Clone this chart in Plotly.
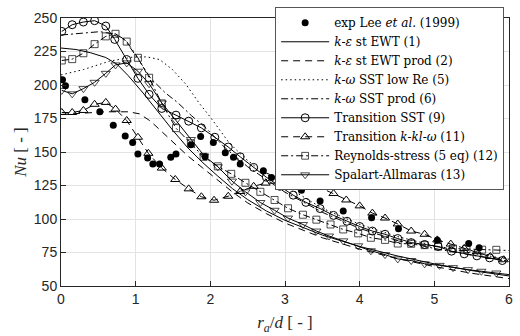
import plotly.graph_objects as go

# ---------------- data ----------------
exp_x = [0.02, 0.06, 0.32, 0.52, 0.70, 0.86, 0.96, 1.03, 1.16, 1.23, 1.32, 1.47, 1.54, 1.74, 1.87, 1.93,
         2.04, 2.20, 2.31, 2.40, 2.71, 2.82, 3.22, 3.47, 3.78, 4.16, 4.52, 5.04, 5.46, 5.60]
exp_y = [204, 199.5, 189, 180, 170, 162, 157, 148.5, 145.5, 141, 141, 146, 148.5, 155.5, 161.5, 146.5,
         157, 149.5, 146, 141, 136, 131, 121.5, 113.5, 106, 101, 92.7, 84.2, 81.8, 78.5]

ke_x = [0, 0.2, 0.4, 0.6, 0.75, 0.9, 1.1, 1.3, 1.5, 1.7, 1.9, 2.1, 2.3, 2.5, 2.75, 3.0, 3.5, 4.0, 4.5, 5.0, 5.5, 6.0]
ke_y = [227.6, 226.5, 224, 220.5, 215.5, 207, 194, 180, 166, 153, 142, 132, 122.5, 114.5, 106, 99, 88, 79.5, 72.5, 66.5, 61.5, 57.5]

kep_x = [0, 0.3, 0.6, 0.9, 1.05, 1.2, 1.35, 1.5, 1.7, 1.9, 2.1, 2.3, 2.5, 2.75, 3.0, 3.5, 4.0, 4.5, 5.0, 5.5, 6.0]
kep_y = [178, 179, 180, 180, 178.5, 173, 165, 157, 147, 138, 129, 120, 112, 104, 97, 86, 77.5, 70.5, 64.5, 59.5, 55.5]

sstlow_x = [0, 0.3, 0.65, 0.95, 1.15, 1.32, 1.49, 1.67, 1.85, 2.0, 2.25, 2.47, 2.7, 3.0, 3.5, 4.0, 4.5, 5.0, 5.5, 6.0]
sstlow_y = [207.5, 211.5, 217.8, 220.7, 221, 219, 211.7, 200.7, 186.5, 176, 157, 145, 135, 125, 108, 96, 87, 80, 74.5, 70]

sstp_x = [0, 0.3, 0.52, 0.74, 0.85, 0.95, 1.05, 1.2, 1.4, 1.56, 1.75, 1.94, 2.2, 2.5, 3.0, 3.5, 4.0, 4.5, 5.0, 5.5, 6.0]
sstp_y = [237.3, 238.6, 239.8, 237.8, 234, 226, 218, 205, 194, 187, 177, 168, 153, 139, 120, 105, 93, 84, 78, 73, 68.5]

tsst_x = [0.01, 0.15, 0.30, 0.45, 0.60, 0.72, 0.88, 1.03, 1.18, 1.35, 1.54, 1.71, 1.88, 2.06, 2.24, 2.40, 2.58, 2.75,
          2.93, 3.11, 3.28, 3.47, 3.65, 3.83, 4.00, 4.17, 4.34, 4.51, 4.69, 4.87, 5.05, 5.23, 5.40, 5.57, 5.74, 5.91]
tsst_y = [240, 245, 247, 248, 244, 234, 219, 205, 193, 182.5, 177.5, 173, 168, 161, 153.7, 146.4, 138.5, 131.2,
          124.4, 117.8, 112.4, 107.8, 102.7, 98.3, 94.4, 91, 88.6, 85.4, 82.4, 81, 79.5, 76, 74, 72.5, 71, 69]

tkkl_x = [0.01, 0.15, 0.30, 0.45, 0.60, 0.73, 0.88, 1.03, 1.17, 1.35, 1.53, 1.71, 1.88, 2.05, 2.24, 2.40, 2.58, 2.74,
          2.93, 3.11, 3.28, 3.47, 3.65, 3.82, 4.00, 4.17, 4.34, 4.51, 4.69, 4.87, 5.04, 5.22, 5.40, 5.57, 5.75, 5.93]
tkkl_y = [179.5, 179.5, 181, 185.6, 187, 182, 173.5, 161, 149, 138, 129.5, 122.5, 116.6, 114, 117, 120.5, 124.4, 126.8,
          126.8, 126.8, 126.3, 123.5, 119, 114.2, 109.8, 104.4, 100.7, 96.3, 91, 88.6, 84.4, 81.3, 78.1, 75.6, 72, 69.6]

rsm_x = [0.01, 0.15, 0.30, 0.45, 0.60, 0.73, 0.88, 1.03, 1.18, 1.35, 1.54, 1.74, 1.91, 2.10, 2.28, 2.47, 2.67,
         2.86, 3.04, 3.24, 3.42, 3.61, 3.78, 3.98, 4.15, 4.34, 4.51, 4.69, 4.87, 5.05, 5.25, 5.43, 5.64, 5.83, 6.0]
rsm_y = [218.3, 219.3, 223.7, 230.5, 236.3, 238.2, 232.4, 220.3, 205.4, 186.3, 167.8, 156.5, 146.4, 139.3, 133.7,
         127, 120.3, 114.2, 108, 103.2, 99.5, 95.9, 92.2, 89.3, 86, 84.4, 81.7, 81.5, 80.5, 79.5, 78, 77.6, 77.1, 77, 76.5]

sa_x = [0.01, 0.15, 0.30, 0.45, 0.60, 0.73, 0.88, 1.03, 1.18, 1.35, 1.54, 1.74, 1.92, 2.10, 2.29, 2.47, 2.67,
        2.86, 3.04, 3.24, 3.42, 3.59, 3.78, 3.98, 4.15, 4.34, 4.51, 4.69, 4.87, 5.07, 5.25, 5.45, 5.63, 5.83, 6.0]
sa_y = [196, 193.4, 197.3, 202, 208.7, 215, 216.5, 210.3, 201, 186.6, 173.5, 159.3, 147, 139, 128.3, 120.3, 112.3,
        106.5, 100.7, 95.9, 91, 87.3, 83.7, 80, 76.3, 73.4, 70.2, 69, 66.6, 65.4, 63.7, 62.2, 61, 59.7, 58.5]

x_ticks = [0, 1, 2, 3, 4, 5, 6]
y_ticks = [50, 75, 100, 125, 150, 175, 200, 225, 250]

names = [
    "exp Lee <i>et al.</i> (1999)",
    "<i>k</i>-<i>ε</i> st EWT (1)",
    "<i>k</i>-<i>ε</i> st EWT prod (2)",
    "<i>k</i>-<i>ω</i> SST low Re (5)",
    "<i>k</i>-<i>ω</i> SST prod (6)",
    "Transition SST (9)",
    "Transition <i>k</i>-<i>kl</i>-<i>ω</i> (11)",
    "Reynolds-stress (5 eq) (12)",
    "Spalart-Allmaras (13)",
]

# ---------------- figure ----------------
K = "black"
LW = 1
DASH = "7px,5px"
DASHDOT = "7px,3px,2px,3px"
DOT = "1.5px,3px"


def sizes(n, s, last_hidden=False):
    out = [s] * n
    if last_hidden:
        out[-1] = 0
    return out


fig = go.Figure()
fig.add_trace(go.Scatter(x=exp_x, y=exp_y, mode="markers", name=names[0],
                         marker=dict(symbol="circle", size=7, color=K)))
fig.add_trace(go.Scatter(x=ke_x, y=ke_y, mode="lines", name=names[1],
                         line=dict(color=K, width=LW)))
fig.add_trace(go.Scatter(x=kep_x, y=kep_y, mode="lines", name=names[2],
                         line=dict(color=K, width=LW, dash=DASH)))
fig.add_trace(go.Scatter(x=sstlow_x, y=sstlow_y, mode="lines", name=names[3],
                         line=dict(color=K, width=LW, dash=DOT)))
fig.add_trace(go.Scatter(x=sstp_x, y=sstp_y, mode="lines", name=names[4],
                         line=dict(color=K, width=LW, dash=DASHDOT)))
fig.add_trace(go.Scatter(x=tsst_x, y=tsst_y, mode="lines+markers", name=names[5],
                         line=dict(color=K, width=LW),
                         marker=dict(symbol="circle-open", size=8, color=K, line=dict(width=1))))
fig.add_trace(go.Scatter(x=tkkl_x, y=tkkl_y, mode="lines+markers", name=names[6],
                         line=dict(color=K, width=LW, dash=DASH),
                         marker=dict(symbol="triangle-up-open", size=8, color=K, line=dict(width=1))))
fig.add_trace(go.Scatter(x=rsm_x, y=rsm_y, mode="lines+markers", name=names[7],
                         line=dict(color=K, width=LW, dash=DASHDOT),
                         marker=dict(symbol="square-open", size=sizes(len(rsm_x), 7, True), color=K,
                                     line=dict(width=1))))
fig.add_trace(go.Scatter(x=sa_x, y=sa_y, mode="lines+markers", name=names[8],
                         line=dict(color=K, width=LW),
                         marker=dict(symbol="triangle-down-open", size=sizes(len(sa_x), 8, True), color=K,
                                     line=dict(width=1))))

axis_common = dict(
    showgrid=True, gridcolor="#e3e3e3", gridwidth=1,
    showline=True, linecolor="#262626", linewidth=1, mirror=True,
    ticks="inside", ticklen=5, tickcolor="#262626",
    tickfont=dict(family="Liberation Sans, Arial, sans-serif", size=14, color="#262626"),
    zeroline=False,
)

fig.update_layout(
    width=520, height=336,
    margin=dict(l=61, r=7, t=13, b=50),
    paper_bgcolor="white", plot_bgcolor="white",
    showlegend=True,
    xaxis=dict(range=[0, 6], tickvals=x_ticks, ticktext=[str(v) for v in x_ticks],
               title=dict(text="<i>r</i><sub><i>a</i></sub>/<i>d</i> [ - ]",
                          font=dict(family="Liberation Serif, DejaVu Serif, serif", size=17, color="#262626"),
                          standoff=10),
               **axis_common),
    yaxis=dict(range=[50, 250], tickvals=y_ticks, ticktext=[str(v) for v in y_ticks],
               title=dict(text="<i>Nu</i> [ - ]",
                          font=dict(family="Liberation Serif, DejaVu Serif, serif", size=17, color="#262626"),
                          standoff=2),
               **axis_common),
    legend=dict(
        x=0.478, y=1.04, xanchor="left", yanchor="top",
        bgcolor="white", bordercolor="#555555", borderwidth=1,
        font=dict(family="DejaVu Serif, serif", size=12, color="black"),
        itemwidth=48, tracegroupgap=0, maxheight=260,
    ),
)

fig.write_html("out.html")
